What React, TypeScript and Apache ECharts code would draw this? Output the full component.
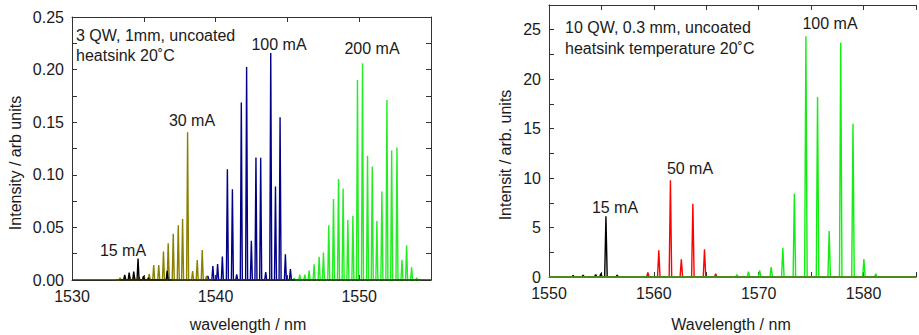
import React, { useEffect, useRef } from 'react';
import * as echarts from 'echarts';

// ---------- Left panel: 3 QW, 1 mm ----------
const leftXRange = [1530, 1555];
const leftYRange = [0, 0.25];

const qw3_15mA_nm = [1533.67, 1533.98, 1534.3, 1534.6, 1534.98, 1535.32, 1536.63];
const qw3_15mA_val = [0.0048, 0.007, 0.0079, 0.0203, 0.0038, 0.002, 0.0087];

const qw3_30mA_nm = [1533.35, 1533.68, 1534.0, 1534.33, 1534.68, 1535.02, 1535.38, 1535.69, 1536.04, 1536.37, 1536.7, 1537.05, 1537.4, 1537.7, 1538.05, 1538.4, 1538.72, 1539.07, 1539.37];
const qw3_30mA_val = [0.002, 0.003, 0.004, 0.004, 0.003, 0.0035, 0.0058, 0.0143, 0.0143, 0.027, 0.035, 0.044, 0.052, 0.058, 0.1405, 0.0086, 0.019, 0.0286, 0.004];

const qw3_100mA_nm = [1539.46, 1539.81, 1540.14, 1540.47, 1540.82, 1541.17, 1541.47, 1541.79, 1542.16, 1542.49, 1542.81, 1543.14, 1543.49, 1543.84, 1544.17, 1544.49, 1544.86, 1545.21];
const qw3_100mA_val = [0.004, 0.0133, 0.0152, 0.0222, 0.1053, 0.0863, 0.0054, 0.1688, 0.2024, 0.0374, 0.1164, 0.1161, 0.0076, 0.2157, 0.0888, 0.1548, 0.0244, 0.0105];

const qw3_200mA_nm = [1545.47, 1545.86, 1546.21, 1546.51, 1546.86, 1547.21, 1547.51, 1547.88, 1548.21, 1548.56, 1548.88, 1549.21, 1549.56, 1549.88, 1550.23, 1550.58, 1550.91, 1551.23, 1551.58, 1551.93, 1552.26, 1552.63, 1552.98, 1553.3, 1553.65, 1554.0];
const qw3_200mA_val = [0.0016, 0.005, 0.005, 0.009, 0.015, 0.022, 0.026, 0.052, 0.077, 0.096, 0.087, 0.057, 0.061, 0.19, 0.206, 0.118, 0.108, 0.056, 0.084, 0.171, 0.123, 0.126, 0.019, 0.033, 0.012, 0.002];

// ---------- Right panel: 10 QW, 0.3 mm ----------
const rightXRange = [1550, 1585];
const rightYRange = [0, 27.5];

const qw10_15mA_nm = [1552.3, 1553.25, 1554.45, 1554.95, 1555.43, 1556.5];
const qw10_15mA_val = [0.15, 0.2, 0.25, 0.35, 6.13, 0.2];

const qw10_50mA_nm = [1559.43, 1560.47, 1561.58, 1562.62, 1563.72, 1564.83, 1565.9];
const qw10_50mA_val = [0.47, 2.69, 9.77, 1.78, 7.41, 2.79, 0.34];

const qw10_100mA_nm = [1567.92, 1569.02, 1570.09, 1571.19, 1572.3, 1573.4, 1574.5, 1575.61, 1576.72, 1577.82, 1578.99, 1580.03, 1581.16];
const qw10_100mA_val = [0.24, 0.54, 0.67, 1.01, 2.96, 8.42, 24.33, 18.2, 4.65, 23.69, 15.5, 1.82, 0.34];

const FONT = '"Liberation Sans", Arial, Helvetica, sans-serif';
const TXT = '#1a1a1a';
const AX = '#333';

function peaksToLine(nm: number[], val: number[], hw: number, pad: number): number[][] {
  const pts: number[][] = [[nm[0] - pad, 0]];
  nm.forEach((x, i) => {
    pts.push([x - hw, 0], [x, val[i]], [x + hw, 0]);
  });
  pts.push([nm[nm.length - 1] + pad, 0]);
  return pts;
}

function isMult(v: number, m: number) {
  return Math.abs(v / m - Math.round(v / m)) < 1e-6;
}

export default function App() {
  const ref = useRef<HTMLDivElement>(null);
  useEffect(() => {
    if (!ref.current) return;
    const chart = echarts.init(ref.current, undefined, { renderer: 'svg' });

    const axLine = { show: true, onZero: false, lineStyle: { color: AX, width: 1 } };
    const tick = { show: true, inside: true, length: 5, lineStyle: { color: AX, width: 1 } };
    const lbl = { fontSize: 16, fontFamily: FONT, color: TXT, margin: 8 };

    const xAxisBase = (gi: number, range: number[], pos: 'bottom' | 'top', showLabel: boolean) => ({
      type: 'value',
      gridIndex: gi,
      min: range[0],
      max: range[1],
      interval: 5,
      position: pos,
      axisLine: axLine,
      axisTick: tick,
      splitLine: { show: false },
      axisLabel: showLabel
        ? { ...lbl, formatter: (v: number) => (isMult(v, 10) ? String(Math.round(v)) : '') }
        : { show: false },
    });

    const line = (name: string, data: number[][], color: string, xi: number, yi: number, width = 1.4, z = 2) => ({
      name,
      type: 'line',
      xAxisIndex: xi,
      yAxisIndex: yi,
      data,
      showSymbol: false,
      symbol: 'none',
      lineStyle: { color, width },
      itemStyle: { color },
      z,
      silent: true,
    });

    const txt = (text: string, x: number, y: number, align = 'left', rotation = 0) => ({
      type: 'text',
      x,
      y,
      rotation,
      z: 100,
      style: {
        text,
        fill: TXT,
        fontSize: 16,
        fontFamily: FONT,
        align,
        verticalAlign: 'middle',
      },
    });

    chart.setOption({
      animation: false,
      backgroundColor: '#fff',
      grid: [
        { left: 72, top: 17, width: 359, height: 263, containLabel: false },
        { left: 549, top: 5, width: 370, height: 272, containLabel: false },
      ],
      xAxis: [
        xAxisBase(0, leftXRange, 'bottom', true),
        xAxisBase(0, leftXRange, 'top', false),
        xAxisBase(1, rightXRange, 'bottom', true),
        xAxisBase(1, rightXRange, 'top', false),
      ],
      yAxis: [
        {
          type: 'value', gridIndex: 0, min: leftYRange[0], max: leftYRange[1], interval: 0.025, position: 'left',
          axisLine: axLine, axisTick: tick, splitLine: { show: false },
          axisLabel: { ...lbl, formatter: (v: number) => (isMult(v, 0.05) ? v.toFixed(2) : '') },
        },
        {
          type: 'value', gridIndex: 0, min: leftYRange[0], max: leftYRange[1], interval: 0.025, position: 'right',
          axisLine: axLine, axisTick: tick, splitLine: { show: false }, axisLabel: { show: false },
        },
        {
          type: 'value', gridIndex: 1, min: rightYRange[0], max: rightYRange[1], interval: 2.5, position: 'left',
          axisLine: axLine, axisTick: tick, splitLine: { show: false },
          axisLabel: { ...lbl, formatter: (v: number) => (isMult(v, 5) && v <= 25 ? String(Math.round(v)) : '') },
        },
      ],
      series: [
        line('200 mA', peaksToLine(qw3_200mA_nm, qw3_200mA_val, 0.07, 0.3), '#22ee22', 0, 0),
        line('100 mA', peaksToLine(qw3_100mA_nm, qw3_100mA_val, 0.07, 0.3), '#000088', 0, 0),
        line('30 mA', peaksToLine(qw3_30mA_nm, qw3_30mA_val, 0.07, 0.3), '#8a8000', 0, 0),
        line('15 mA', peaksToLine(qw3_15mA_nm, qw3_15mA_val, 0.07, 0.3), '#000000', 0, 0),
        line('baseL', [[leftXRange[0], 0], [leftXRange[1], 0]], '#2a2a10', 0, 0, 1.5, 5),
        line('15 mA r', peaksToLine(qw10_15mA_nm, qw10_15mA_val, 0.12, 0.5), '#000000', 2, 2),
        line('50 mA r', peaksToLine(qw10_50mA_nm, qw10_50mA_val, 0.12, 0.5), '#ff0000', 2, 2),
        line('100 mA r', peaksToLine(qw10_100mA_nm, qw10_100mA_val, 0.12, 0.5), '#11ee11', 2, 2),
        line('baseR', [[rightXRange[0], 0], [rightXRange[1], 0]], '#4a8c1c', 2, 2, 2, 5),
      ],
      graphic: [
        txt('3 QW, 1mm, uncoated', 76, 35),
        txt('heatsink 20˚C', 76, 55),
        txt('100 mA', 279, 44, 'center'),
        txt('200 mA', 372, 48, 'center'),
        txt('30 mA', 192, 120, 'center'),
        txt('15 mA', 123, 250, 'center'),
        txt('wavelength / nm', 248, 324, 'center'),
        txt('Intensity / arb units', 15, 163, 'center', Math.PI / 2),
        txt('10 QW, 0.3 mm, uncoated', 565, 27, 'left'),
        txt('heatsink temperature 20˚C', 565, 48, 'left'),
        txt('100 mA', 830, 23, 'center'),
        txt('50 mA', 690, 168, 'center'),
        txt('15 mA', 615, 207, 'center'),
        txt('Wavelength / nm', 731, 324, 'center'),
        txt('Intensit / arb. units', 505, 155, 'center', Math.PI / 2),
      ],
    });

    return () => chart.dispose();
  }, []);

  return (
    <div
      ref={ref}
      style={{ position: 'fixed', left: 0, top: 0, width: 919, height: 335, background: '#fff' }}
    />
  );
}
